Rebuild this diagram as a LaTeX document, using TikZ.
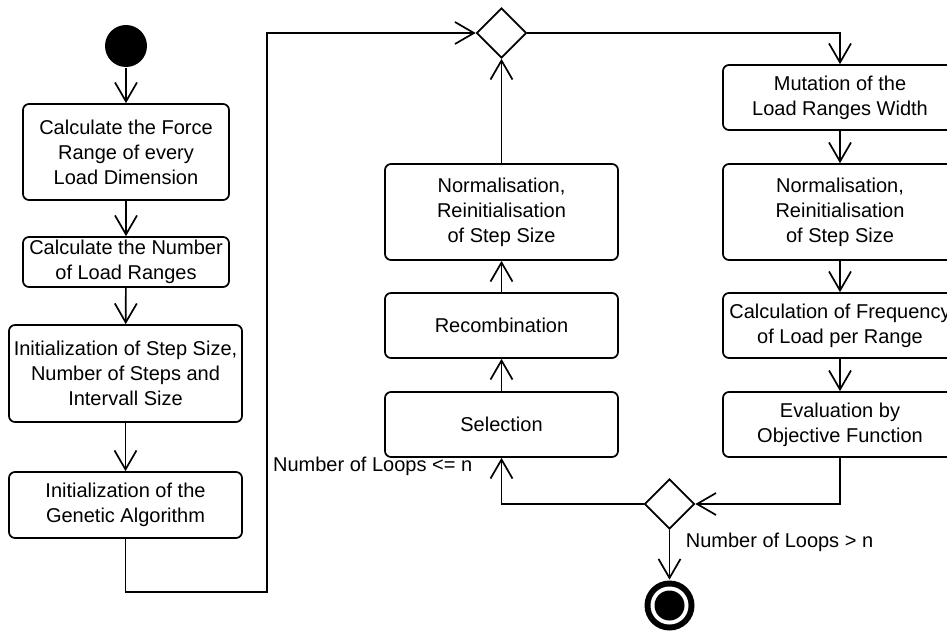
\documentclass[tikz,border=0pt]{standalone}
\usepackage{fontspec}
\setmainfont{Liberation Sans}
\usetikzlibrary{arrows.meta,shapes.geometric}
\begin{document}
\begin{tikzpicture}[x=1pt,y=-1pt,
  line width=1.7pt,
  every node/.style={font=\fontsize{20}{25}\selectfont},
  act/.style={draw,rounded corners=6pt,align=center,inner sep=0pt,line width=1.7pt},
  dec/.style={draw,diamond,aspect=1,minimum width=50pt,minimum height=50pt,inner sep=0pt,line width=1.7pt},
  flow/.style={-{Straight Barb[length=19pt,width=22pt]}},
  lbl/.style={inner sep=0pt}]
\useasboundingbox (0,0) rectangle (947,631);
% start
\node[circle,fill=black,minimum size=42pt,inner sep=0pt] (start) at (126,46) {};
% left column
\node[act,minimum width=206pt,minimum height=96pt] (b1) at (126,152) {Calculate the Force\\Range of every\\Load Dimension};
\node[act,minimum width=206pt,minimum height=50pt] (b2) at (126,262) {Calculate the Number\\of Load Ranges};
\node[act,minimum width=233pt,minimum height=97pt] (b3) at (125.5,373.5) {Initialization of Step Size,\\Number of Steps and\\Intervall Size};
\node[act,minimum width=233pt,minimum height=66pt] (b4) at (125.5,505) {Initialization of the\\Genetic Algorithm};
% decisions
\node[dec] (d1) at (501.5,33) {};
\node[dec] (d2) at (669.5,504) {};
% middle column
\node[act,minimum width=233pt,minimum height=96pt] (m1) at (501.5,212) {Normalisation,\\Reinitialisation\\of Step Size};
\node[act,minimum width=233pt,minimum height=65pt] (m2) at (501.5,325.5) {Recombination};
\node[act,minimum width=233pt,minimum height=65pt] (m3) at (501.5,424.5) {Selection};
% right column
\node[act,minimum width=234pt,minimum height=65pt] (r1) at (840,97.5) {Mutation of the\\Load Ranges Width};
\node[act,minimum width=234pt,minimum height=96pt] (r2) at (840,212) {Normalisation,\\Reinitialisation\\of Step Size};
\node[act,minimum width=234pt,minimum height=65pt] (r3) at (840,325.5) {Calculation of Frequency\\of Load per Range};
\node[act,minimum width=234pt,minimum height=65pt] (r4) at (840,424.5) {Evaluation by\\Objective Function};
% end
\node[circle,fill=black,minimum size=50pt,inner sep=0pt] (end) at (669.5,605.5) {};
\fill[white] (end.center) circle (19pt);
\fill[black] (end.center) circle (15pt);
% labels
\node[lbl,anchor=east] (l1) at (473,466) {Number of Loops <= n};
\node[lbl,anchor=west] (l2) at (685,542) {Number of Loops > n};
% connectors
\coordinate (turn) at (267,592);
\draw[flow] (start) -- (b1);
\draw[flow] (b1) -- (b2);
\draw[flow] (b2) -- (b3);
\draw[flow] (b3) -- (b4);
\draw[flow] (b4.south) |- (turn) |- (d1.west);
\draw[flow] (d1.east) -| (r1.north);
\draw[flow] (r1) -- (r2);
\draw[flow] (r2) -- (r3);
\draw[flow] (r3) -- (r4);
\draw[flow] (r4.south) |- (d2.east);
\draw[flow] (d2.west) -| (m3.south);
\draw[flow] (m3) -- (m2);
\draw[flow] (m2) -- (m1);
\draw[flow] (m1) -- (d1.south);
\draw[flow] (d2.south) -- (end.north);
\end{tikzpicture}
\end{document}
